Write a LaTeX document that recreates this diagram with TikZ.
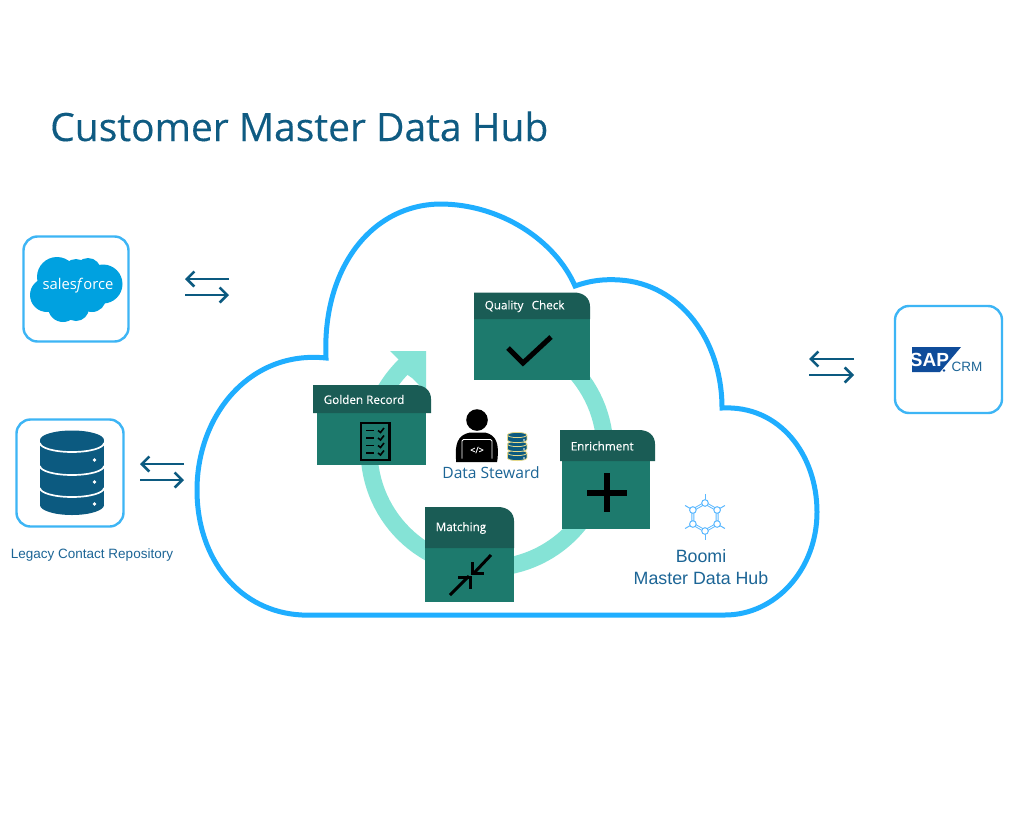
\documentclass[tikz,border=0pt]{standalone}
\usepackage{fontspec}
\setmainfont{Open Sans}
\newfontfamily\arialf{Liberation Sans}
\newfontfamily\semif[FakeBold=0.25]{Open Sans}
\usetikzlibrary{arrows.meta}
\definecolor{cloudb}{HTML}{1FAEFF}
\definecolor{boxb}{HTML}{3DB5F5}
\definecolor{navy}{HTML}{0C5A80}
\definecolor{titlec}{HTML}{0F5B82}
\definecolor{headc}{HTML}{1A5C55}
\definecolor{bodyc}{HTML}{1D7A6D}
\definecolor{ringc}{HTML}{85E3D6}
\definecolor{textb}{HTML}{1C6596}
\definecolor{sfb}{HTML}{00A1E0}
\definecolor{sapb}{HTML}{0F4C9A}
\definecolor{boomic}{HTML}{5CB9FF}
\definecolor{dbline}{HTML}{E6D98A}
\tikzset{
  appbox/.style={draw=boxb,line width=2.4pt,rounded corners=14pt,fill=white},
  flow/.style={draw=navy,line width=2.6pt,-{Straight Barb[length=7.5pt,width=15pt,line width=2.6pt]}},
  cardbody/.style={fill=bodyc},
  cardhead/.style={fill=headc},
  cardlabel/.style={text=white,font=\semif\fontsize{11.7}{13}\selectfont,anchor=west,inner sep=0pt},
  blackline/.style={draw=black,line width=3pt}
}
\newcommand{\card}[9]{%
  \fill[cardbody] (#3,#7) rectangle (#4,#8);
  \fill[cardhead] (#2,#6) -- (#5-16,#6) .. controls (#5-6,#6) and (#5,#6+6) .. (#5,#6+14) -- (#5,#7) -- (#2,#7) -- cycle;
  \node[cardlabel] (#1) at (#2+10.5,{(#6+#7)/2+0.5}) {#9};
}
\begin{document}
\begin{tikzpicture}[x=1pt,y=-1pt]
\useasboundingbox (0,0) rectangle (1024,819);
\fill[white] (0,0) rectangle (1024,819);

% title
\node[anchor=base west,inner sep=0pt,text=titlec,font=\semif\fontsize{39}{40}\selectfont] (title) at (50,141) {Customer Master Data Hub};

% hub cloud
\draw[cloudb,line width=5pt,fill=white,line join=miter]
  (302,615) .. controls (240,612) and (197,560) .. (197,490)
  .. controls (197,415) and (250,350) .. (326,358)
  .. controls (322,270) and (370,205) .. (440,204)
  .. controls (500,204) and (555,240) .. (575,286)
  .. controls (592,280) and (605,279) .. (620,280)
  .. controls (680,284) and (722,340) .. (722,408)
  .. controls (780,405) and (817,455) .. (817,512)
  .. controls (817,570) and (775,615) .. (725,615)
  -- cycle;

% ring
\draw[ringc,line width=17pt] plot[domain=-45:226,samples=90] ({487+118*cos(\x)},{450+118*sin(\x)});
\fill[ringc] (390,351) -- (426,351) -- (426,392) -- (412,378) -- (395,366) -- (401,362) -- cycle;

% cards
\card{cQuality}{474}{474}{590}{590}{292.5}{319}{380}{Quality\hspace{0.7em}Check}
\card{cGolden}{313}{317}{426}{431}{385}{413}{465}{Golden Record}
\card{cEnrich}{560}{562}{650}{655}{430}{461}{529}{Enrichment}
\card{cMatch}{425}{425}{514}{514}{507}{548}{602}{Matching}

% check mark
\draw[black,line width=5pt,line join=miter] (508,348) -- (523,363) -- (551,337);
% plus
\fill[black] (604,473) rectangle (610,512);
\fill[black] (587,490) rectangle (627,496);
% matching arrows
\draw[blackline] (450,595) -- (469,576);
\draw[blackline] (458,577) -- (470,577) -- (470,589);
\draw[blackline] (491,555) -- (474,573);
\draw[blackline] (472.5,562) -- (472.5,573.5) -- (484,573.5);
% checklist icon
\draw[black,line width=2.8pt] (361,423) rectangle (389.5,460);
\foreach \yy in {430.5,438,445.5,453}{
  \draw[black,line width=1.8pt] (366,\yy) -- (374,\yy);
  \draw[black,line width=1.6pt] (378,\yy) -- (380.5,\yy+2) -- (384,\yy-2.5);
}

% data steward
\fill[black] (477,420) circle (10.8);
\fill[black] (456,459) .. controls (455,445) and (457,435) .. (470,432.5) -- (485,432.5) .. controls (497,435) and (499,445) .. (497.5,459) -- (497,462) -- (456,462) -- cycle;
\draw[white,line width=0.9pt,rounded corners=1.5pt,fill=black] (462,458.5) -- (462,439.5) -- (492,439.5) -- (492,458.5);
\node[text=white,inner sep=0pt,font=\semif\fontsize{9}{9}\selectfont] (code) at (477,450) {</>};
\foreach \yy in {453,444,435}{
  \fill[navy] (507.5,\yy) rectangle (526.9,\yy+5);
  \draw[draw=dbline,fill=navy,line width=0.8pt] (507.5,\yy) -- (507.5,\yy+5) arc[start angle=180,end angle=360,x radius=9.7pt,y radius=2.6pt] -- (526.9,\yy);
  \draw[draw=dbline,fill=navy,line width=0.8pt] (517.2,\yy) ellipse (9.7 and 2.6);
  \fill[white] (524,\yy+5) circle (0.8);
}
\node[text=textb,inner sep=0pt,font=\fontsize{15.6}{16}\selectfont] (steward) at (491,472.5) {Data Steward};

% boomi
\foreach \a/\n in {30/h1,90/h2,150/h3,210/h4,270/h5,330/h6}{
  \coordinate (\n) at ({705+14*cos(\a)},{517-14*sin(\a)});
  \coordinate (r\n) at ({705+23*cos(\a)},{517-23*sin(\a)});
  \draw[boomic,line width=1pt] (\n) -- (r\n);
}
\draw[boomic,line width=2.8pt] (h1) -- (h2) -- (h3) -- (h4) -- (h5) -- (h6) -- cycle;
\draw[white,line width=0.9pt] (h1) -- (h2) -- (h3) -- (h4) -- (h5) -- (h6) -- cycle;
\foreach \n in {h1,h2,h3,h4,h5,h6}{
  \draw[boomic,fill=white,line width=1pt] (\n) circle (3.3);
}
\node[text=textb,inner sep=0pt,font=\arialf\fontsize{17.8}{21.7}\selectfont,align=center] (boomi) at (701,567) {Boomi\\Master Data Hub};

% salesforce
\node[appbox,minimum width=105pt,minimum height=105pt,inner sep=0pt] (sfbox) at (76,289) {};
\fill[sfb] (57,277) circle (20) (76,272) circle (13) (88,271) circle (13)
  (103,284) circle (19.5) (47,295) circle (17) (63,307) circle (15) (76,308) circle (13)
  (92,298) circle (14) (65,290) circle (18) (85,287) circle (20);
\node[text=white,inner sep=0pt,font=\fontsize{14.8}{16}\selectfont] (sftext) at (78,286) {sales\textit{f}orce};

% legacy
\node[appbox,minimum width=107pt,minimum height=107pt,inner sep=0pt] (legbox) at (70,473) {};
\fill[navy] (40,440) rectangle (104,505);
\fill[navy] (72,440) ellipse (32 and 9.5);
\fill[navy] (72,505) ellipse (32 and 10);
\foreach \yy in {443,466,488}{
  \draw[white,line width=1.7pt] (40,\yy) arc[start angle=180,end angle=360,x radius=32pt,y radius=9pt];
}
\fill[white] (94.5,460) circle (1.8) (94.5,482) circle (1.8) (94.5,504) circle (1.8);
\node[text=textb,inner sep=0pt,font=\arialf\fontsize{13.5}{14}\selectfont] (legtext) at (92,555) {Legacy Contact Repository};

% SAP
\node[appbox,minimum width=107pt,minimum height=107pt,inner sep=0pt] (sapbox) at (948.5,359.5) {};
\fill[sapb] (912,347) -- (961,347) -- (940,372) -- (912,372) -- cycle;
\node[text=white,inner sep=0pt,font=\arialf\bfseries\fontsize{19}{20}\selectfont] (saptext) at (929.5,359.5) {SAP};
\fill[sapb] (944,370.5) circle (1.3);
\node[text=textb,inner sep=0pt,font=\arialf\fontsize{13.5}{14}\selectfont,anchor=west] (crmtext) at (951.5,366.5) {CRM};

% flow arrows
\coordinate (a1) at (229,279); \coordinate (a2) at (185,279);
\coordinate (a3) at (185,295); \coordinate (a4) at (229,295);
\coordinate (b1) at (184,464); \coordinate (b2) at (140,464);
\coordinate (b3) at (140,480); \coordinate (b4) at (184,480);
\coordinate (c1) at (854,359); \coordinate (c2) at (809,359);
\coordinate (c3) at (809,375); \coordinate (c4) at (854,375);
\draw[flow] (a1) -- (a2);
\draw[flow] (a3) -- (a4);
\draw[flow] (b1) -- (b2);
\draw[flow] (b3) -- (b4);
\draw[flow] (c1) -- (c2);
\draw[flow] (c3) -- (c4);
\end{tikzpicture}
\end{document}
